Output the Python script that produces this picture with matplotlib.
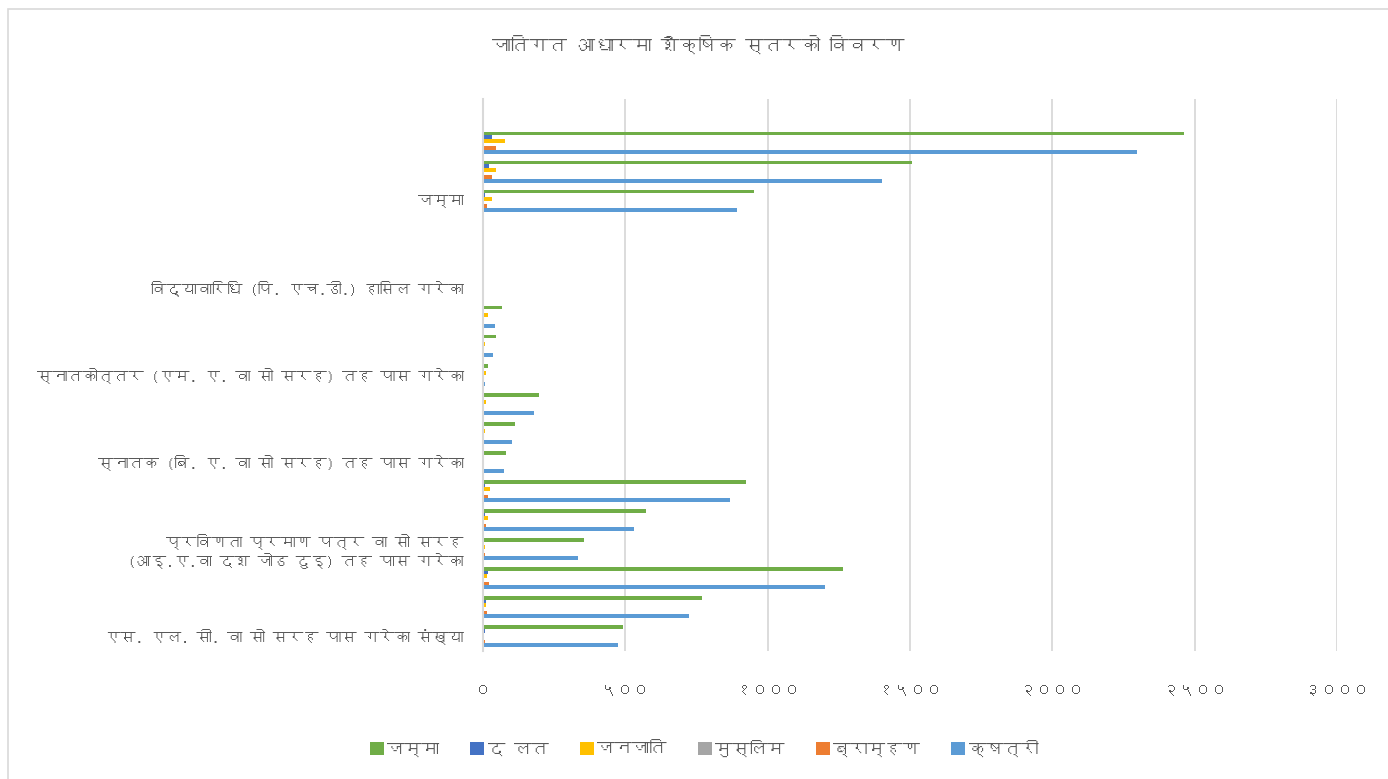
import numpy as np
import matplotlib
matplotlib.use("Agg")
import matplotlib.pyplot as plt
import matplotlib.font_manager as fm
from matplotlib.ft2font import FT2Font
from matplotlib.patches import Rectangle

# categories bottom -> top (three rows per level, only the first is labelled)
categories = ['एस. एल. सी. वा सो सरह पास गरेका संख्या', '', '',
              'प्रविणता प्रमाण पत्र वा सो सरह\n(आइ.ए.वा दश जोड दुइ) तह पास गरेका', '', '',
              'स्नातक (बि. ए. वा सो सरह) तह पास गरेका', '', '',
              'स्नातकोत्तर (एम. ए. वा सो सरह) तह पास गरेका', '', '',
              'विद्यावारिधि (पि. एच.डी.) हासिल गरेका', '', '',
              'जम्मा', '', '']

# series values, same order as categories
jamma    = [493, 769, 1265, 354, 571, 925, 81, 114, 197, 19, 45, 65, 0, 1, 3, 952, 1508, 2462]
dalit    = [6, 12, 19, 0, 6, 8, 0, 0, 0, 0, 0, 0, 0, 0, 0, 7, 20, 30]
janajati = [4, 9, 15, 6, 17, 26, 5, 6, 11, 11, 6, 19, 0, 0, 0, 31, 45, 79]
muslim   = [0, 0, 0, 0, 0, 0, 0, 0, 0, 0, 0, 0, 0, 0, 0, 0, 0, 0]
brahman  = [6, 14, 21, 6, 11, 19, 0, 0, 0, 0, 0, 0, 0, 0, 0, 14, 32, 47]
kshatri  = [473, 723, 1200, 335, 531, 868, 74, 102, 179, 6, 34, 41, 0, 1, 3, 894, 1401, 2298]

series_names = ['जम्मा', 'द लत', 'जनजाति', 'मुस्लिम', 'ब्राम्हण', 'क्षत्री']
colors = ['#70AD47', '#4472C4', '#FFC000', '#A5A5A5', '#ED7D31', '#5B9BD5']
xticks = [0, 500, 1000, 1500, 2000, 2500, 3000]
xtick_labels = ['०', '५००', '१०००', '१५००', '२०००', '२५००', '३०००']
title = 'जातिगत आधारमा शैक्षिक स्तरको विवरण'


# look for any installed font that has Devanagari glyphs
def find_devanagari():
    for f in fm.fontManager.ttflist:
        try:
            if FT2Font(f.fname).get_char_index(0x0915):
                return f.name
        except Exception:
            pass
    return None

dev = find_devanagari()
fams = ([dev] if dev else []) + ['DejaVu Sans']
plt.rcParams['font.family'] = fams

txt = '#595959'
grid = '#D9D9D9'

fig = plt.figure(figsize=(13.88, 7.79), dpi=100)
fig.patches.append(Rectangle((8 / 1388, -0.1), 1.2, 1 - 9 / 779 + 0.1, transform=fig.transFigure,
                             fill=False, edgecolor=grid, lw=1.2))
ax = fig.add_axes([483 / 1388, 1 - 650.7 / 779, (1337 - 483) / 1388, (650.7 - 99) / 779])

y = np.arange(len(categories))
h = 0.126
data = [jamma, dalit, janajati, muslim, brahman, kshatri]
for i, (vals, name, c) in enumerate(zip(data, series_names, colors)):
    ax.barh(y + (2.5 - i) * h, vals, height=h, color=c, label=name)

ax.set_xlim(0, 3000)
ax.set_ylim(-0.5, 18.5)
ax.set_xticks(xticks)
ax.set_xticklabels(xtick_labels)
ax.set_yticks(y)
ax.set_yticklabels(categories, ha='right', multialignment='right')
ax.tick_params(axis='y', length=0, pad=14, labelsize=11, labelcolor=txt)
ax.tick_params(axis='x', length=0, pad=24, labelsize=11.5, labelcolor=txt)

ax.grid(axis='x', color=grid, lw=1.3)
ax.set_axisbelow(True)
for s in ['top', 'right', 'bottom']:
    ax.spines[s].set_visible(False)
ax.spines['left'].set_color(grid)
ax.spines['left'].set_linewidth(1.5)

fig.text(698 / 1388, 1 - 44 / 779, title, ha='center', va='center', fontsize=13.5, color=txt)

leg = fig.legend(loc='center', bbox_to_anchor=(704 / 1388, 1 - 748 / 779), ncol=6, frameon=False,
                 fontsize=12.5, handlelength=0.8, handleheight=0.8, handletextpad=0.2, columnspacing=1.8,
                 labelcolor=txt)

fig.savefig('out.png', dpi=100)
